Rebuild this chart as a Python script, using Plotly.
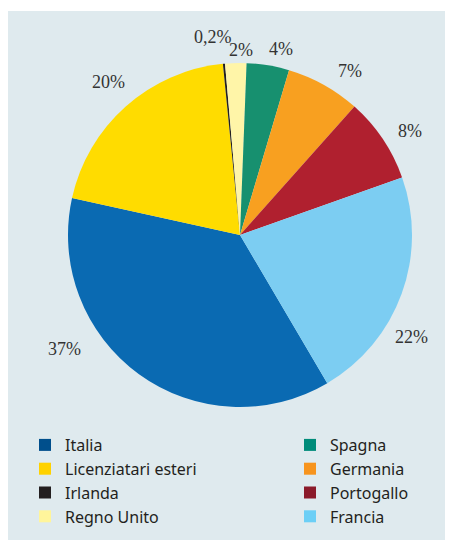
import plotly.graph_objects as go

# ---- data ----
categories = ["Italia", "Licenziatari esteri", "Irlanda", "Regno Unito",
              "Spagna", "Germania", "Portogallo", "Francia"]
values = [37, 20, 0.2, 2, 4, 7, 8, 22]
pct_labels = ["37%", "20%", "0,2%", "2%", "4%", "7%", "8%", "22%"]

slice_colors = ["#0a6ab2", "#ffdc00", "#231f20", "#fff5a8",
                "#17906f", "#f8a020", "#b0202f", "#7ccdf2"]
legend_colors = ["#004f8c", "#ffd200", "#231f20", "#fff59b",
                 "#008c7a", "#f7941d", "#8b1a2a", "#6ccff6"]

# label positions (pixel centre of each percentage label, figure coords)
label_px = [(56, 341), (100, 74), (205, 29), (233, 42),
            (273, 41), (342, 63), (402, 123), (403, 329)]

W, H = 445, 532
cx, cy, r = 232, 227, 172

fig = go.Figure()

fig.add_trace(go.Pie(
    labels=categories, values=values, sort=False, direction="clockwise",
    rotation=149.5, textinfo="none", hoverinfo="label+percent",
    marker=dict(colors=slice_colors, line=dict(width=0)),
    showlegend=False,
    domain=dict(x=[(cx - r) / W, (cx + r) / W],
                y=[(H - cy - r) / H, (H - cy + r) / H]),
))

# legend entries (two columns)
for i, (name, col) in enumerate(zip(categories, legend_colors)):
    fig.add_trace(go.Scatter(
        x=[None], y=[None], mode="markers", name=name,
        marker=dict(symbol="square", size=12, color=col),
        legend="legend" if i < 4 else "legend2",
    ))

annotations = []
for txt, (px, py) in zip(pct_labels, label_px):
    annotations.append(dict(
        x=px / W, y=1 - py / H, xref="paper", yref="paper",
        text=txt, showarrow=False, xanchor="center", yanchor="middle",
        font=dict(family="Liberation Serif", size=18, color="#333333"),
    ))

legend_font = dict(family="Noto Sans", size=16, color="#231f20")
fig.update_layout(
    width=W, height=H,
    margin=dict(l=0, r=0, t=0, b=0),
    paper_bgcolor="white", plot_bgcolor="rgba(0,0,0,0)",
    font=dict(family="Liberation Serif"),
    xaxis=dict(visible=False), yaxis=dict(visible=False),
    shapes=[dict(type="rect", xref="paper", yref="paper",
                 x0=0, x1=1, y0=0, y1=1 - 3 / H,
                 fillcolor="#dfeaee", line=dict(width=0), layer="below")],
    annotations=annotations,
    legend=dict(x=17 / W, y=1 - 420 / H, xanchor="left", yanchor="top",
                bgcolor="rgba(0,0,0,0)", font=legend_font,
                itemclick=False, itemdoubleclick=False),
    legend2=dict(x=282 / W, y=1 - 420 / H, xanchor="left", yanchor="top",
                 bgcolor="rgba(0,0,0,0)", font=legend_font,
                 itemclick=False, itemdoubleclick=False),
)

fig.write_html("out.html")
